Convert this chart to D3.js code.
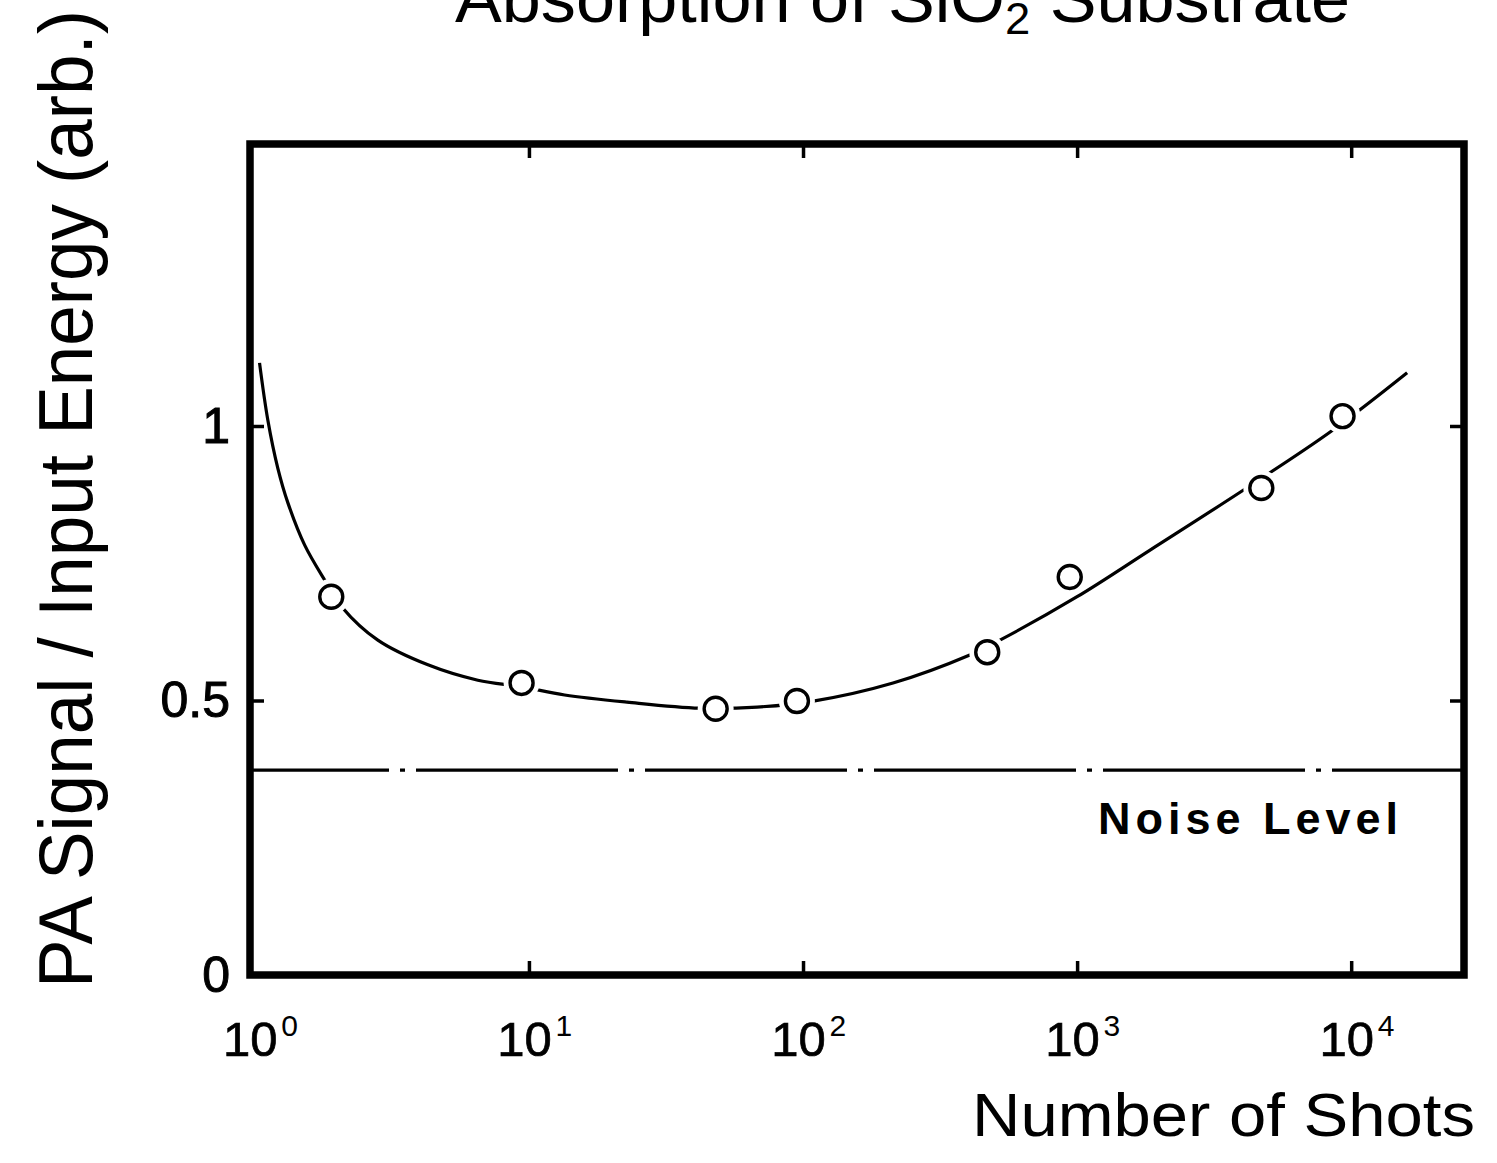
<!DOCTYPE html>
<html>
<head>
<meta charset="utf-8">
<script src="https://cdn.jsdelivr.net/npm/d3@7"></script>
<style>
  html, body { margin: 0; padding: 0; background: #fff; }
  svg { display: block; }
  text { font-family: "Liberation Sans", Arial, sans-serif; fill: #000; }
</style>
</head>
<body>
<svg id="chart" width="1497" height="1163"></svg>
<script>
// ---- data ----
const shotPoints = [1.9, 9.4, 48, 95, 470, 940, 4700, 9300];
const signalPoints = [0.689, 0.532, 0.485, 0.499, 0.588, 0.725, 0.887, 1.018];

const curveShots = [1.04, 1.115, 1.213, 1.32, 1.52, 1.80, 2.08, 2.81, 4.28, 6.51, 9.4, 13.5, 22.8, 42, 68, 109, 213, 406, 523, 1000, 1846, 4035, 8380, 16000];
const curveSignal = [1.115, 1.011, 0.923, 0.860, 0.783, 0.719, 0.670, 0.610, 0.565, 0.537, 0.525, 0.510, 0.497, 0.486, 0.488, 0.499, 0.532, 0.583, 0.610, 0.689, 0.774, 0.883, 0.989, 1.097];

const noiseLevel = 0.373;
const xTickValues = [1, 10, 100, 1000, 10000];
const xTickExponents = ["0", "1", "2", "3", "4"];
const yTickValues = [0, 0.5, 1];
const yTickLabels = ["0", "0.5", "1"];

// ---- layout ----
const svg = d3.select("#chart");
const pLeft = 250, pRight = 1464, pTop = 144, pBottom = 975;

const x = d3.scaleLog().domain([0.96, 25800]).range([pLeft, pRight]);
const y = d3.scaleLinear().domain([0, (pBottom - pTop) / 549]).range([pBottom, pTop]);

// curve
const line = d3.line()
  .x((d, i) => x(curveShots[i]))
  .y((d, i) => y(curveSignal[i]))
  .curve(d3.curveCatmullRom.alpha(0.5));

svg.append("path")
  .datum(curveShots)
  .attr("d", line)
  .attr("fill", "none")
  .attr("stroke", "#000")
  .attr("stroke-width", 3.2);

// noise level dash-dot line
svg.append("line")
  .attr("x1", pLeft).attr("x2", pRight)
  .attr("y1", y(noiseLevel)).attr("y2", y(noiseLevel))
  .attr("stroke", "#000")
  .attr("stroke-width", 3.2)
  .attr("stroke-dasharray", "202 11 5 11")
  .attr("stroke-dashoffset", 63);

// halo + circles
const pts = shotPoints.map((s, i) => ({ s, v: signalPoints[i] }));
svg.append("g").selectAll("circle").data(pts).join("circle")
  .attr("cx", d => x(d.s)).attr("cy", d => y(d.v))
  .attr("r", 18).attr("fill", "#fff");
svg.append("g").selectAll("circle").data(pts).join("circle")
  .attr("cx", d => x(d.s)).attr("cy", d => y(d.v))
  .attr("r", 11.5).attr("fill", "#fff")
  .attr("stroke", "#000").attr("stroke-width", 3.4);

// ticks (inner) on four sides
const tickLen = 14;
function styleAxis(g) {
  g.select(".domain").remove();
  g.selectAll(".tick line").attr("stroke", "#000").attr("stroke-width", 3.5);
  g.selectAll(".tick text").remove();
}
const innerX = xTickValues.slice(1);
svg.append("g").attr("transform", `translate(0,${pBottom})`)
  .call(d3.axisTop(x).tickValues(innerX).tickSize(tickLen)).call(styleAxis);
svg.append("g").attr("transform", `translate(0,${pTop})`)
  .call(d3.axisBottom(x).tickValues(innerX).tickSize(tickLen)).call(styleAxis);
const innerY = [0.5, 1];
svg.append("g").attr("transform", `translate(${pLeft},0)`)
  .call(d3.axisRight(y).tickValues(innerY).tickSize(tickLen)).call(styleAxis);
svg.append("g").attr("transform", `translate(${pRight},0)`)
  .call(d3.axisLeft(y).tickValues(innerY).tickSize(tickLen)).call(styleAxis);

// frame
svg.append("rect")
  .attr("x", pLeft).attr("y", pTop)
  .attr("width", pRight - pLeft).attr("height", pBottom - pTop)
  .attr("fill", "none").attr("stroke", "#000").attr("stroke-width", 7.5);

// x tick labels (10^n)
const xLab = svg.append("g").attr("transform", `translate(0,${pBottom})`)
  .call(d3.axisBottom(x).tickValues(xTickValues).tickSize(0).tickFormat(() => ""));
xLab.select(".domain").remove();
xLab.selectAll(".tick").each(function(d, i) {
  const t = d3.select(this);
  t.select("text").remove();
  t.append("text")
    .attr("x", -5).attr("y", 81)
    .attr("text-anchor", "middle")
    .style("font-size", "49px")
    .attr("stroke", "#000").attr("stroke-width", 0.7)
    .text("10");
  t.append("text")
    .attr("x", 26).attr("y", 61)
    .attr("text-anchor", "start")
    .style("font-size", "30px")
    .text(xTickExponents[i]);
});

// y tick labels
const yLab = svg.append("g").attr("transform", `translate(${pLeft},0)`)
  .call(d3.axisLeft(y).tickValues(yTickValues).tickSize(0).tickPadding(20)
    .tickFormat((d, i) => yTickLabels[i]));
yLab.select(".domain").remove();
yLab.selectAll(".tick text")
  .style("font-size", "50px")
  .style("font-family", "'Liberation Sans', Arial, sans-serif")
  .attr("stroke", "#000").attr("stroke-width", 1)
  .attr("fill", "#000");

// noise level label
svg.append("text")
  .attr("x", 1098).attr("y", 834)
  .style("font-size", "45px").style("font-weight", "bold")
  .attr("textLength", 300).attr("lengthAdjust", "spacing")
  .text("Noise Level");

// axis titles
svg.append("text")
  .attr("x", 972).attr("y", 1136)
  .style("font-size", "62px")
  .attr("textLength", 503).attr("lengthAdjust", "spacingAndGlyphs")
  .text("Number of Shots");

svg.append("text")
  .attr("transform", "translate(92,988) rotate(-90)")
  .attr("x", 0).attr("y", 0)
  .style("font-size", "76px")
  .attr("textLength", 978).attr("lengthAdjust", "spacingAndGlyphs")
  .text("PA Signal / Input Energy (arb.)");

// title (cut off at top, as in the source figure)
const title = svg.append("text")
  .attr("x", 455).attr("y", 22)
  .style("font-size", "68px")
  .attr("textLength", 895).attr("lengthAdjust", "spacingAndGlyphs");
title.append("tspan").text("Absorption of SiO");
title.append("tspan").attr("dy", 12).style("font-size", "44px").text("2");
title.append("tspan").attr("dy", -12).text(" Substrate");
</script>
</body>
</html>
